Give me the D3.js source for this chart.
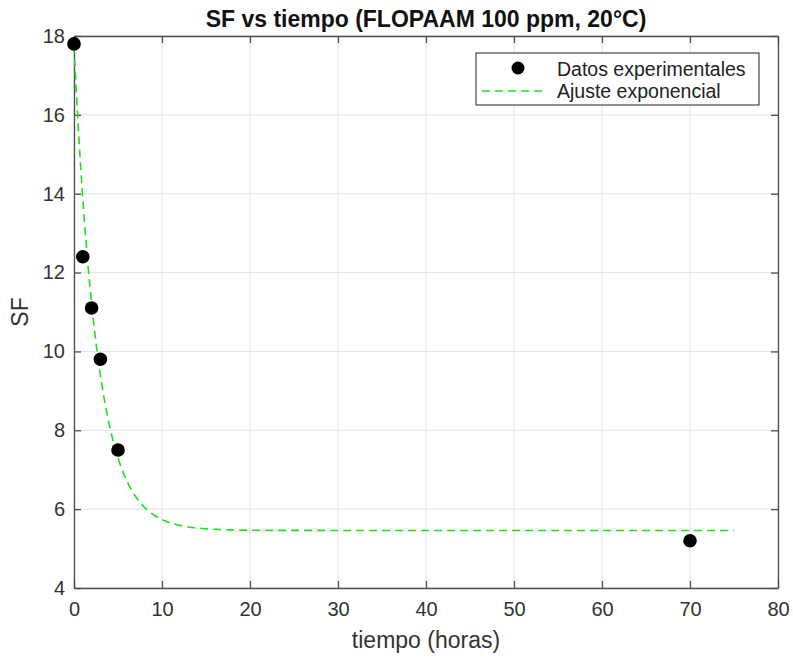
<!DOCTYPE html>
<html><head><meta charset="utf-8">
<script src="https://cdn.jsdelivr.net/npm/d3@7"></script>
<style>body{margin:0;background:#fff;} svg{display:block;font-family:"Liberation Sans",Arial,sans-serif;}</style>
</head><body>
<svg id="c" width="793" height="658"></svg>
<script>
const tiempo = [0, 1, 2, 3, 5, 70];
const sf = [17.8, 12.4, 11.1, 9.8, 7.5, 5.2];
// exponential fit parameters: SF = a*exp(-b*t) + c
const fitA = 12.3, fitB = 0.38, fitC = 5.46;
const fitRange = [0, 75];
const xTicks = [0, 10, 20, 30, 40, 50, 60, 70, 80];
const yTicks = [4, 6, 8, 10, 12, 14, 16, 18];

const svg = d3.select("#c");
const L = 74, R = 778, T = 36, B = 588;
const x = d3.scaleLinear().domain([0, 80]).range([L, R]);
const y = d3.scaleLinear().domain([4, 18]).range([B, T]);
const axisCol = "#4d4d4d";

// grid
const g = svg.append("g");
g.selectAll(".gx").data(xTicks).enter().append("line")
  .attr("x1", d => x(d)).attr("x2", d => x(d)).attr("y1", T).attr("y2", B)
  .attr("stroke", "#e2e2e2").attr("stroke-width", 1);
g.selectAll(".gy").data(yTicks).enter().append("line")
  .attr("y1", d => y(d)).attr("y2", d => y(d)).attr("x1", L).attr("x2", R)
  .attr("stroke", "#e2e2e2").attr("stroke-width", 1);

// axes
const xAxB = d3.axisBottom(x).tickValues(xTicks).tickSizeInner(-7).tickSizeOuter(0).tickPadding(14);
const xAxT = d3.axisTop(x).tickValues(xTicks).tickSizeInner(-7).tickSizeOuter(0).tickFormat("");
const yAxL = d3.axisLeft(y).tickValues(yTicks).tickSizeInner(-7).tickSizeOuter(0).tickPadding(9);
const yAxR = d3.axisRight(y).tickValues(yTicks).tickSizeInner(-7).tickSizeOuter(0).tickFormat("");
function style(sel){
  sel.selectAll("path").attr("stroke", axisCol).attr("stroke-width", 1.3);
  sel.selectAll("line").attr("stroke", axisCol).attr("stroke-width", 1.3);
  sel.selectAll("text").attr("fill", "#333").attr("font-size", 20).attr("font-family", "'Liberation Sans',Arial,sans-serif");
}
svg.append("g").attr("transform", `translate(0,${B})`).call(xAxB).call(style);
svg.append("g").attr("transform", `translate(0,${T})`).call(xAxT).call(style);
svg.append("g").attr("transform", `translate(${L},0)`).call(yAxL).call(style);
svg.append("g").attr("transform", `translate(${R},0)`).call(yAxR).call(style);

// fit curve
const ts = d3.range(fitRange[0], fitRange[1] + 0.001, 0.1);
const line = d3.line().x(d => x(d)).y(d => y(fitA * Math.exp(-fitB * d) + fitC));
svg.append("path").datum(ts).attr("d", line)
  .attr("fill", "none").attr("stroke", "#1ee01e").attr("stroke-width", 1.6)
  .attr("stroke-dasharray", "8,5");

// points
svg.selectAll(".pt").data(tiempo).enter().append("circle")
  .attr("cx", d => x(d)).attr("cy", (d, i) => y(sf[i])).attr("r", 6.8).attr("fill", "#000");

// title
svg.append("text").attr("x", (L + R) / 2).attr("y", 27).attr("text-anchor", "middle")
  .attr("font-size", 23).attr("font-weight", "bold").attr("fill", "#111")
  .text("SF vs tiempo (FLOPAAM 100 ppm, 20°C)");
// axis labels
svg.append("text").attr("x", (L + R) / 2).attr("y", 648).attr("text-anchor", "middle")
  .attr("font-size", 23).attr("fill", "#333").text("tiempo (horas)");
svg.append("text").attr("transform", `translate(28,${(T + B) / 2}) rotate(-90)`).attr("text-anchor", "middle")
  .attr("font-size", 23).attr("fill", "#333").text("SF");

// legend
const lg = svg.append("g");
lg.append("rect").attr("x", 476).attr("y", 53).attr("width", 283).attr("height", 52)
  .attr("fill", "#fff").attr("stroke", "#222").attr("stroke-width", 1);
lg.append("circle").attr("cx", 518).attr("cy", 68).attr("r", 6.5).attr("fill", "#000");
lg.append("line").attr("x1", 482).attr("x2", 546).attr("y1", 91).attr("y2", 91)
  .attr("stroke", "#1ee01e").attr("stroke-width", 1.6).attr("stroke-dasharray", "8,5");
lg.append("text").attr("x", 557).attr("y", 76).attr("font-size", 19.5).attr("fill", "#222").text("Datos experimentales");
lg.append("text").attr("x", 557).attr("y", 98).attr("font-size", 19.5).attr("fill", "#222").text("Ajuste exponencial");
</script>
</body></html>
